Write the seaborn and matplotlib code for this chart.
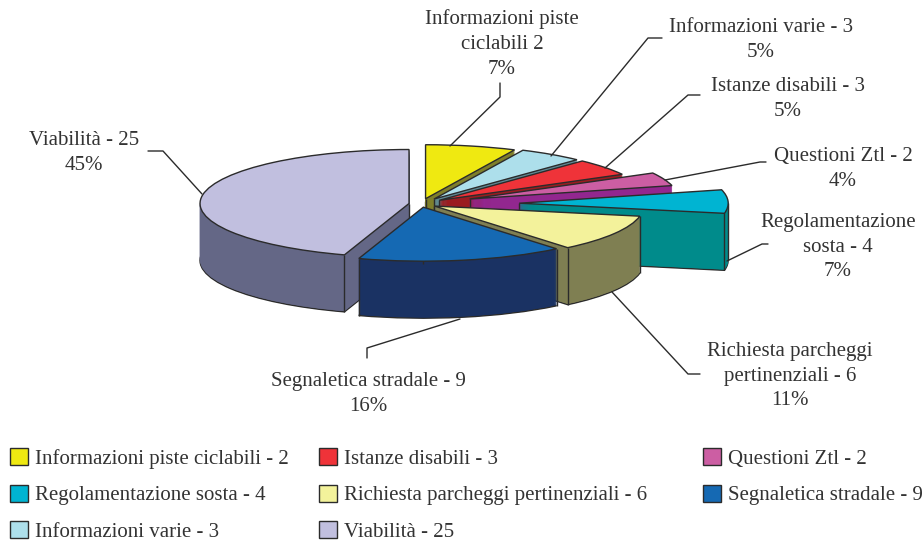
import math
import matplotlib
matplotlib.use('Agg')
import matplotlib.pyplot as plt
from matplotlib.patches import Patch
import seaborn as sns

# === Data ===
legend_names = ['Informazioni piste ciclabili - 2', 'Informazioni varie - 3', 'Istanze disabili - 3',
                'Questioni Ztl - 2', 'Regolamentazione sosta - 4', 'Richiesta parcheggi pertinenziali - 6',
                'Segnaletica stradale - 9', 'Viabilità - 25']
shares = [7, 5, 5, 4, 7, 11, 16, 45]
explode = [0.10, 0.11, 0.11, 0.25, 0.47, 0.075, 0.06, 0.058]
slice_labels = ['Informazioni piste\nciclabili 2\n7%', 'Informazioni varie - 3\n5%', 'Istanze disabili - 3\n5%',
                'Questioni Ztl - 2\n4%', 'Regolamentazione\nsosta - 4\n7%',
                'Richiesta parcheggi\npertinenziali - 6\n11%', 'Segnaletica stradale - 9\n16%', 'Viabilità - 25\n45%']
top_colors = ['#efe911', '#addfeb', '#ef3339', '#cc5ea3', '#00b4d2', '#f3f29b', '#1569b3', '#c1bfdf']
wall_colors = ['#7f7f2a', '#5f8a96', '#9b1c20', '#92278f', '#008b8b', '#7f7f52', '#1a3263', '#646786']

# pixel layout of the picture
hub_x, hub_y = 421, 204
rx, ry, depth = 209, 54, 57
label_pos = [(502, 44), (761, 40), (788, 99), (843, 169), (838, 247), (790, 376), (368, 394), (84, 153)]
leaders = [[(450, 146), (500, 97), (500, 83)], [(551, 156), (648, 38), (662, 38)],
           [(605, 168), (688, 95), (700, 95)], [(665, 180), (760, 162), (766, 162)],
           [(727, 261), (762, 244), (768, 244)], [(612, 292), (688, 374), (700, 374)],
           [(460, 319), (367, 348), (367, 358)], [(202, 194), (163, 151), (148, 151)]]
EDGE = '#2b2b2b'
TEXT = '#333333'

sns.set_theme(style='white')
plt.rcParams['font.family'] = ['Liberation Serif', 'DejaVu Serif']
FS = 15

fig = plt.figure(figsize=(9.23, 5.44), dpi=100)
ax = fig.add_axes([0, 0, 1, 1])
ov = fig.add_axes([0, 0, 1, 1], zorder=5)
ov.patch.set_alpha(0)
ov.set_xlim(0, 923)
ov.set_ylim(544, 0)
ov.axis('off')

# back slices are painted first
mids = []
run = 0
for s in shares:
    mids.append(math.radians(90 - 3.6 * (run + s / 2)))
    run += s
rank = {i: r for r, i in enumerate(sorted(range(len(shares)), key=lambda i: -math.sin(mids[i])))}

# === Walls, one pie per pixel of depth ===
for k in range(depth, 0, -1):
    wedges, _ = ax.pie(shares, colors=wall_colors, explode=explode, startangle=90, counterclock=False,
                       center=(0, -k / ry), radius=1)
    for i, w in enumerate(wedges):
        w.set_zorder(10 * rank[i] + 1 + (depth - k) * 0.01)
        if k == depth:
            w.set_edgecolor(EDGE)
            w.set_linewidth(1.0)
        else:
            w.set_edgecolor(wall_colors[i])
            w.set_linewidth(0.3)

# === Top faces ===
tops, _ = ax.pie(shares, colors=top_colors, explode=explode, startangle=90, counterclock=False,
                 wedgeprops=dict(edgecolor=EDGE, linewidth=1.0), radius=1)
for i, w in enumerate(tops):
    w.set_zorder(10 * rank[i] + 3)
    cx, cy = w.center
    corners = [(cx, cy)]
    for a in (w.theta1, w.theta2):
        if math.sin(math.radians(a)) < 0:
            corners.append((cx + math.cos(math.radians(a)), cy + math.sin(math.radians(a))))
    for a in (0, 180, 360, 540):
        if w.theta1 < a < w.theta2:
            corners.append((cx + math.cos(math.radians(a)), cy))
    for px, py in corners:
        ax.plot([px, px], [py, py - depth / ry], color=EDGE, lw=1.0, zorder=10 * rank[i] + 2, solid_capstyle='butt')

ax.set_aspect('auto')
ax.set_xlim(-hub_x / rx, (923 - hub_x) / rx)
ax.set_ylim(-(544 - hub_y) / ry, hub_y / ry)
ax.axis('off')

# === Leader lines and labels ===
for pts, txt, (tx, ty) in zip(leaders, slice_labels, label_pos):
    ov.plot([p[0] for p in pts], [p[1] for p in pts], color=EDGE, lw=1.0)
    ov.text(tx, ty, txt, ha='center', va='center', fontsize=FS, color=TEXT, linespacing=1.42)

# === Legend, three separate columns ===
columns = [([0, 4, 1], 2), ([2, 5, 7], 311), ([3, 6], 695)]
for idx, x0 in columns:
    handles = [Patch(facecolor=top_colors[i], edgecolor=EDGE, linewidth=1.0, label=legend_names[i]) for i in idx]
    leg = ov.legend(handles=handles, loc='upper left', bbox_to_anchor=(x0, 440), bbox_transform=ov.transData,
                    frameon=False, fontsize=FS, handlelength=0.87, handleheight=0.87, handletextpad=0.3,
                    labelspacing=0.755, labelcolor=TEXT, borderaxespad=0)
    ov.add_artist(leg)
ov.legend_ = None

plt.savefig('out.png', dpi=100)
